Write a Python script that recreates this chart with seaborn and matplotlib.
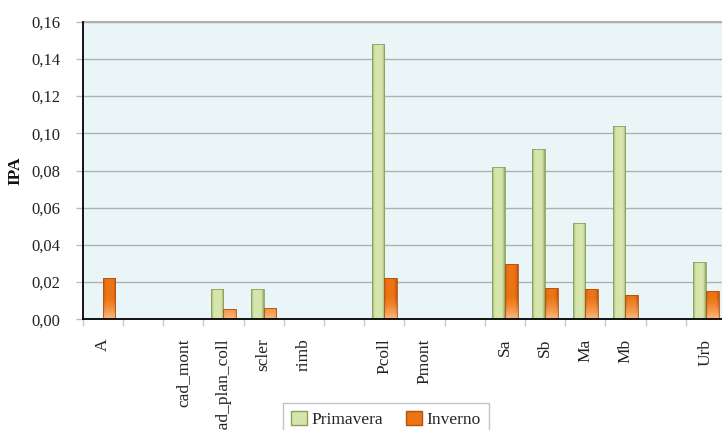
import numpy as np
import pandas as pd
import matplotlib
matplotlib.use("Agg")
import matplotlib.pyplot as plt
import seaborn as sns
from matplotlib.colors import to_rgb
from matplotlib.patches import Patch

# Category slots (empty strings are spacer slots between groups)
labels = ["A", "", "cad_mont", "cad_plan_coll", "scler", "rimb", "", "Pcoll",
          "Pmont", "", "Sa", "Sb", "Ma", "Mb", "", "Urb"]
primavera = [np.nan, np.nan, np.nan, 0.0161, 0.0161, np.nan, np.nan, 0.148,
             np.nan, np.nan, 0.0817, 0.0914, 0.0516, 0.1038, np.nan, 0.0306]
inverno = [0.022, np.nan, np.nan, 0.0055, 0.0060, np.nan, np.nan, 0.022,
           np.nan, np.nan, 0.0296, 0.0167, 0.0161, 0.0131, np.nan, 0.0152]
series = ["Primavera", "Inverno"]
yticks = [0.00, 0.02, 0.04, 0.06, 0.08, 0.10, 0.12, 0.14, 0.16]

slots = [f"s{i}" for i in range(len(labels))]
df = pd.DataFrame({
    "slot": slots * 2,
    "stagione": [series[0]] * len(slots) + [series[1]] * len(slots),
    "IPA": primavera + inverno,
})

sns.set_theme(style="white")
plt.rcParams["font.family"] = ["Liberation Serif", "DejaVu Serif"]

green_light, green_dark = "#d6e6ab", "#8aa05c"
orange_mid, orange_dark, orange_light = "#ec7413", "#b5510c", "#ffc48f"

fig = plt.figure(figsize=(7.22, 4.30), dpi=100)
ax = fig.add_axes([82.7 / 722, 1 - 319.3 / 430, (726 - 82.7) / 722, (319.3 - 21.7) / 430])
ax.set_facecolor("#eaf5f8")

sns.barplot(data=df, x="slot", y="IPA", hue="stagione", order=slots,
            hue_order=series, palette=[green_light, orange_mid], width=0.63,
            gap=0, dodge=True, legend=False, ax=ax, zorder=3, saturation=1,
            edgecolor="none", linewidth=0)

# Shade each bar with a soft gradient clipped to its rectangle
def shade(c_edge, c_center, n=48):
    t = np.linspace(0, 1, n)
    d = np.minimum(t, 1 - t)
    w = np.clip(d / 0.22, 0, 1) ** 0.7
    a, b = np.array(to_rgb(c_edge)), np.array(to_rgb(c_center))
    return a[None, :] * (1 - w[:, None]) + b[None, :] * w[:, None]

green_row = shade(green_dark, green_light)
orange_row = shade(orange_dark, orange_mid)

bars = [p for p in ax.patches if np.isfinite(p.get_height()) and p.get_height() > 0]
for p in bars:
    x0, y0 = p.get_x(), p.get_y()
    x1, y1 = x0 + p.get_width(), y0 + p.get_height()
    xc = (x0 + x1) / 2
    is_green = xc < round(xc)  # first hue level sits left of the slot centre
    if is_green:
        img = np.repeat(green_row[None, :, :], 2, axis=0)
        edge = green_dark
    else:
        rows = 60
        ys = np.linspace(y1, y0, rows)
        glow = np.clip(1 - (ys - y0) / 0.012, 0, 1) ** 1.3
        base = np.repeat(orange_row[None, :, :], rows, axis=0)
        light = np.array(to_rgb(orange_light))
        img = base * (1 - glow[:, None, None] * 0.85) + light * glow[:, None, None] * 0.85
        edge = orange_dark
    im = ax.imshow(img, extent=[x0, x1, y0, y1], aspect="auto", zorder=3.5,
                   interpolation="bilinear")
    im.set_clip_path(p)
    ax.add_patch(plt.Rectangle((x0, y0), x1 - x0, y1 - y0, fill=False,
                               edgecolor=edge, linewidth=0.6, zorder=3.6))

ax.set_xlim(-0.5, len(slots) - 0.5)
ax.set_ylim(0, 0.16)

# Y axis
ax.set_yticks(yticks)
ax.set_yticklabels([f"{v:.2f}".replace(".", ",") for v in yticks], fontsize=12,
                   color="#222222")
ax.yaxis.grid(True, color="#a9b3b4", linewidth=1.0, zorder=0)
ax.set_axisbelow(True)
ax.tick_params(axis="y", length=5, width=1, color="#bdbdbd", pad=11, left=True)
ax.set_ylabel("IPA", fontsize=12.5, fontweight="bold", labelpad=6, color="#111111")

# X axis: labels at slot centres, tick marks at slot boundaries
ax.set_xticks(range(len(slots)))
ax.set_xticklabels(labels, rotation=90, fontsize=12.5, color="#222222", va="top")
ax.tick_params(axis="x", which="major", length=0, pad=14)
ax.set_xticks(np.arange(-0.5, len(slots), 1.0), minor=True)
ax.tick_params(axis="x", which="minor", length=5, width=1, color="#c8c8c8",
               bottom=True)
ax.set_xlabel("")

for side in ["left", "bottom"]:
    ax.spines[side].set_color("#000000")
    ax.spines[side].set_linewidth(1.3)
    ax.spines[side].set_zorder(5)
ax.spines["top"].set_color("#b0b0b0")
ax.spines["top"].set_linewidth(1.5)
ax.spines["right"].set_visible(False)

handles = [Patch(facecolor=green_light, edgecolor=green_dark, linewidth=1),
           Patch(facecolor=orange_mid, edgecolor=orange_dark, linewidth=1)]
leg = fig.legend(handles, series, loc="upper center", ncol=2,
                 bbox_to_anchor=(386 / 722, 1 - 403 / 430), frameon=True,
                 fancybox=False, fontsize=12.5, handlelength=0.9, handleheight=0.9,
                 handletextpad=0.3, columnspacing=1.3, borderpad=0.45,
                 borderaxespad=0)
leg.get_frame().set_edgecolor("#b4b4b4")
leg.get_frame().set_linewidth(1)

fig.savefig("out.png", dpi=100)
